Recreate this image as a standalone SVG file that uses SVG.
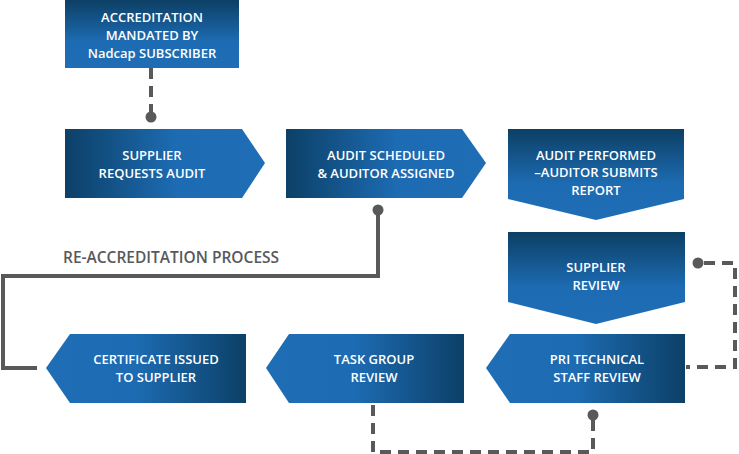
<svg xmlns="http://www.w3.org/2000/svg" width="739" height="454" viewBox="0 0 739 454">
<defs>
<linearGradient id="gV" x1="0" y1="0" x2="0" y2="1">
<stop offset="0" stop-color="#0c3f64"/><stop offset="0.6" stop-color="#1d6bb2"/><stop offset="1" stop-color="#1f6db4"/>
</linearGradient>
<linearGradient id="gR" x1="0" y1="0" x2="1" y2="0">
<stop offset="0" stop-color="#0c4067"/><stop offset="0.55" stop-color="#1d6bb2"/><stop offset="1" stop-color="#1f6db4"/>
</linearGradient>
<linearGradient id="gL" x1="0" y1="0" x2="1" y2="0">
<stop offset="0" stop-color="#1f6db4"/><stop offset="0.45" stop-color="#1d6bb2"/><stop offset="1" stop-color="#0c4067"/>
</linearGradient>
<style>
.t{font-family:"Open Sans","Liberation Sans",sans-serif;font-weight:600;font-size:13px;fill:#ffffff;text-anchor:middle}
.lbl{font-family:"Open Sans","Liberation Sans",sans-serif;font-weight:600;font-size:15.5px;fill:#58595b}
.dash{fill:none;stroke:#58595b;stroke-width:4;stroke-dasharray:11 7}
.solid{fill:none;stroke:#58595b;stroke-width:4}
.dot{fill:#58595b}
</style>
</defs>
<g id="connectors">
<path class="dash" d="M151 68 V112"/>
<circle class="dot" cx="151" cy="117" r="5.5"/>
<path class="solid" d="M378 210 V276 H3 V368 H37"/>
<circle class="dot" cx="378" cy="210" r="5.5"/>
<path class="dash" d="M704 263 H735 V367 H686"/>
<circle class="dot" cx="698" cy="263" r="5.5"/>
<path class="dash" d="M593 420 V452 H373 V404"/>
<circle class="dot" cx="593" cy="415" r="5.5"/>
<text class="lbl" x="63" y="263">RE-ACCREDITATION PROCESS</text>
</g>
<g id="n1">
<rect x="65" y="0" width="174" height="68" fill="url(#gV)"/>
<text class="t" x="152" y="22">ACCREDITATION</text>
<text class="t" x="152" y="40">MANDATED BY</text>
<text class="t" x="152" y="58">Nadcap SUBSCRIBER</text>
</g>
<g id="n2">
<polygon points="65,129 242,129 265,163 242,198 65,198" fill="url(#gR)"/>
<text class="t" x="152" y="160">SUPPLIER</text>
<text class="t" x="152" y="178">REQUESTS AUDIT</text>
</g>
<g id="n3">
<polygon points="286,129 462,129 486,163 462,198 286,198" fill="url(#gR)"/>
<text class="t" x="386" y="160">AUDIT SCHEDULED</text>
<text class="t" x="386" y="178">&amp; AUDITOR ASSIGNED</text>
</g>
<g id="n4">
<polygon points="508,129 684,129 684,199 596,220 508,199" fill="url(#gV)"/>
<text class="t" x="596" y="160">AUDIT PERFORMED</text>
<text class="t" x="596" y="177">–AUDITOR SUBMITS</text>
<text class="t" x="596" y="195">REPORT</text>
</g>
<g id="n5">
<polygon points="508,232 685,232 685,302 596,324 508,302" fill="url(#gV)"/>
<text class="t" x="596" y="272">SUPPLIER</text>
<text class="t" x="596" y="290">REVIEW</text>
</g>
<g id="n6">
<polygon points="486,368 510,334 685,334 685,403 510,403" fill="url(#gL)"/>
<text class="t" x="597" y="364">PRI TECHNICAL</text>
<text class="t" x="597" y="382">STAFF REVIEW</text>
</g>
<g id="n7">
<polygon points="266,368 289,334 464,334 464,403 289,403" fill="url(#gL)"/>
<text class="t" x="374" y="364">TASK GROUP</text>
<text class="t" x="374" y="382">REVIEW</text>
</g>
<g id="n8">
<polygon points="46,368 70,334 246,334 246,403 70,403" fill="url(#gL)"/>
<text class="t" x="156" y="364">CERTIFICATE ISSUED</text>
<text class="t" x="156" y="382">TO SUPPLIER</text>
</g>
</svg>
